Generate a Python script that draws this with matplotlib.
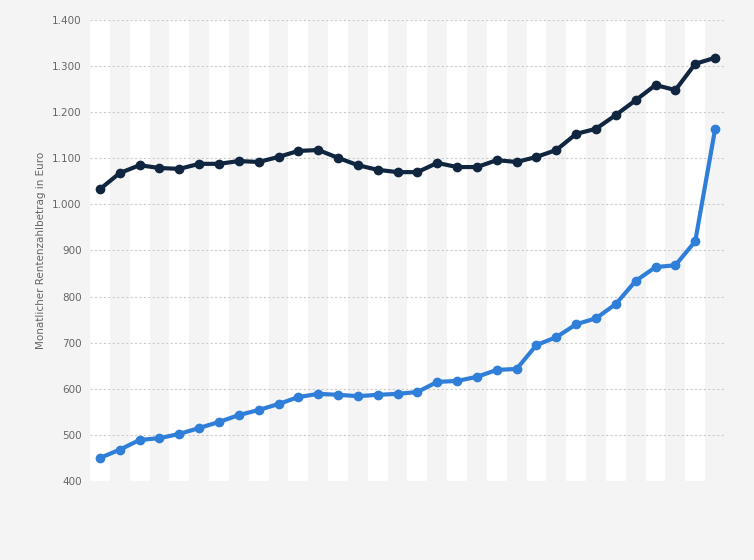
import matplotlib.pyplot as plt
import numpy as np

# monthly pension payout values (Euro)
dark_values = [1033, 1068, 1085, 1079, 1077, 1088, 1088, 1094, 1092, 1103, 1116, 1118,
               1101, 1085, 1075, 1070, 1070, 1090, 1081, 1081, 1096, 1092, 1103, 1118,
               1153, 1164, 1194, 1226, 1259, 1248, 1305, 1318]
blue_values = [450, 468, 489, 493, 502, 515, 528, 543, 554, 567, 582, 589,
               587, 584, 587, 589, 593, 615, 617, 626, 641, 643, 695, 712,
               740, 753, 784, 834, 864, 868, 920, 1163]
y_ticks = [400, 500, 600, 700, 800, 900, 1000, 1100, 1200, 1300, 1400]
y_tick_labels = ["400", "500", "600", "700", "800", "900", "1.000", "1.100",
                 "1.200", "1.300", "1.400"]

W, H = 754, 560
fig = plt.figure(figsize=(W / 100, H / 100), dpi=100, facecolor="#f4f4f4")
ax = fig.add_axes([90 / W, 1 - 481 / H, (725 - 90) / W, (481 - 20) / H])
ax.set_facecolor("white")

x = np.arange(len(dark_values))
for i in x:
    if i % 2 == 1:
        ax.axvspan(i - 0.5, i + 0.5, color="#f4f4f4", zorder=0, lw=0)

ax.plot(x, dark_values, color="#0f2540", lw=3, marker="o", ms=6, zorder=3)
ax.plot(x, blue_values, color="#2f7ed8", lw=3, marker="o", ms=6, zorder=3)

ax.set_xlim(-0.5, len(x) - 0.5)
ax.set_ylim(400, 1400)
ax.set_yticks(y_ticks)
ax.set_yticklabels(y_tick_labels, fontsize=7.5, color="#666666")
ax.set_xticks([])
ax.yaxis.grid(True, ls=(0, (2, 2)), color="#cccccc", lw=0.8)
ax.set_axisbelow(True)
ax.tick_params(axis="y", length=0, pad=6)
for s in ax.spines.values():
    s.set_visible(False)
ax.set_ylabel("Monatlicher Rentenzahlbetrag in Euro", fontsize=7.5, color="#666666")

fig.savefig("out.png", dpi=100, facecolor=fig.get_facecolor())
